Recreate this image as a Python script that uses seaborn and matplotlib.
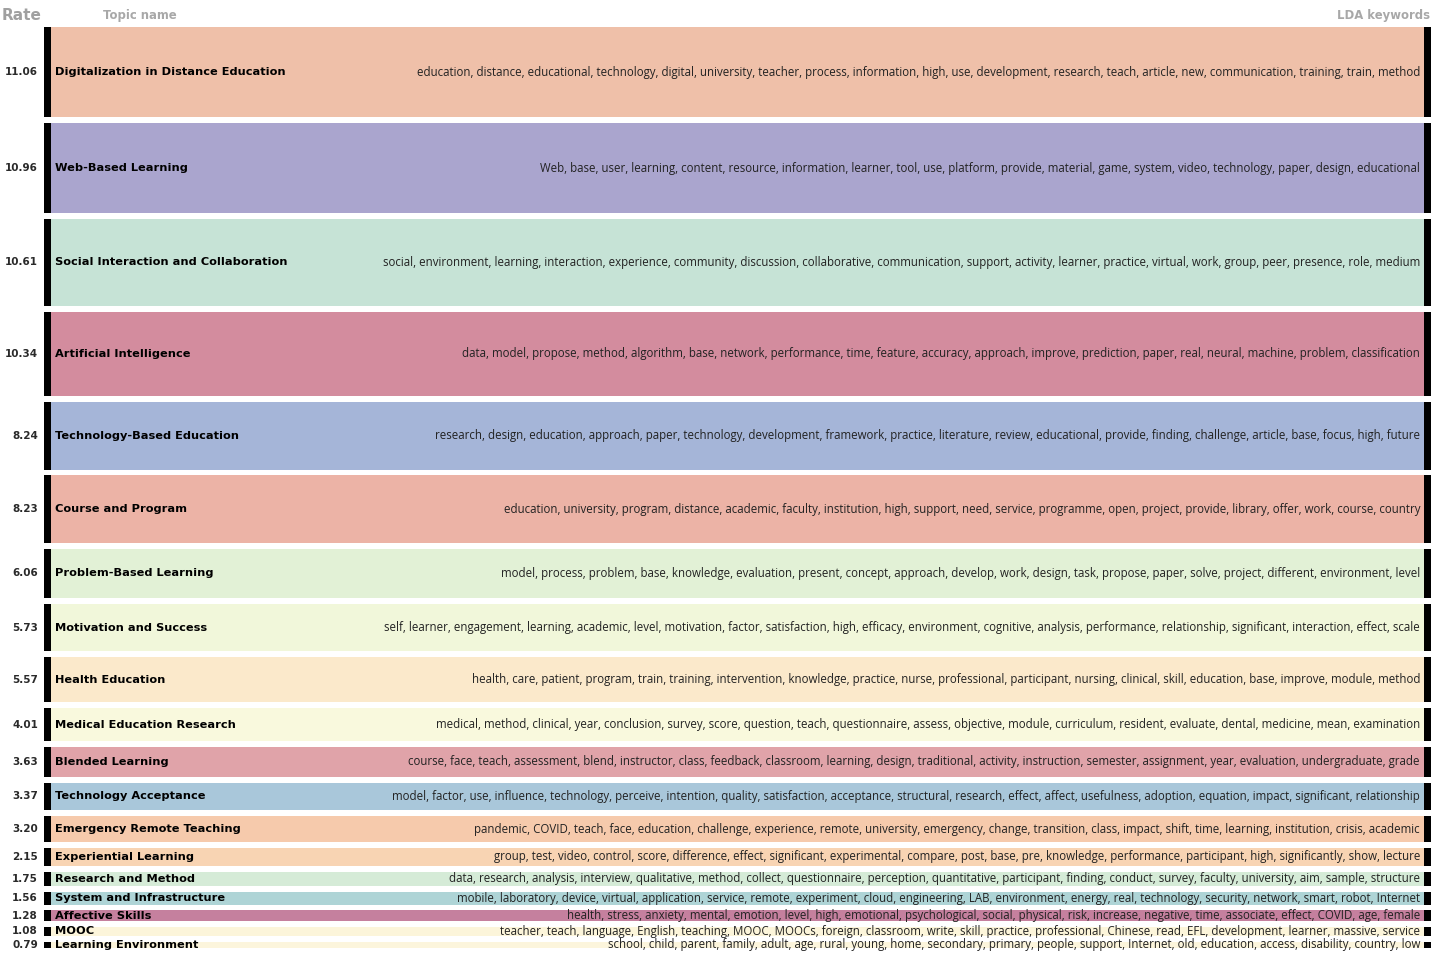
import numpy as np
import pandas as pd
import seaborn as sns
import matplotlib.pyplot as plt

topics = [
    "Digitalization in Distance Education", "Web-Based Learning",
    "Social Interaction and Collaboration", "Artificial Intelligence",
    "Technology-Based Education", "Course and Program", "Problem-Based Learning",
    "Motivation and Success", "Health Education", "Medical Education Research",
    "Blended Learning", "Technology Acceptance", "Emergency Remote Teaching",
    "Experiential Learning", "Research and Method", "System and Infrastructure",
    "Affective Skills", "MOOC", "Learning Environment",
]
rates = [11.06, 10.96, 10.61, 10.34, 8.24, 8.23, 6.06, 5.73, 5.57, 4.01,
         3.63, 3.37, 3.20, 2.15, 1.75, 1.56, 1.28, 1.08, 0.79]
keywords = [
    "education, distance, educational, technology, digital, university, teacher, process, information, high, use, development, research, teach, article, new, communication, training, train, method",
    "Web, base, user, learning, content, resource, information, learner, tool, use, platform, provide, material, game, system, video, technology, paper, design, educational",
    "social, environment, learning, interaction, experience, community, discussion, collaborative, communication, support, activity, learner, practice, virtual, work, group, peer, presence, role, medium",
    "data, model, propose, method, algorithm, base, network, performance, time, feature, accuracy, approach, improve, prediction, paper, real, neural, machine, problem, classification",
    "research, design, education, approach, paper, technology, development, framework, practice, literature, review, educational, provide, finding, challenge, article, base, focus, high, future",
    "education, university, program, distance, academic, faculty, institution, high, support, need, service, programme, open, project, provide, library, offer, work, course, country",
    "model, process, problem, base, knowledge, evaluation, present, concept, approach, develop, work, design, task, propose, paper, solve, project, different, environment, level",
    "self, learner, engagement, learning, academic, level, motivation, factor, satisfaction, high, efficacy, environment, cognitive, analysis, performance, relationship, significant, interaction, effect, scale",
    "health, care, patient, program, train, training, intervention, knowledge, practice, nurse, professional, participant, nursing, clinical, skill, education, base, improve, module, method",
    "medical, method, clinical, year, conclusion, survey, score, question, teach, questionnaire, assess, objective, module, curriculum, resident, evaluate, dental, medicine, mean, examination",
    "course, face, teach, assessment, blend, instructor, class, feedback, classroom, learning, design, traditional, activity, instruction, semester, assignment, year, evaluation, undergraduate, grade",
    "model, factor, use, influence, technology, perceive, intention, quality, satisfaction, acceptance, structural, research, effect, affect, usefulness, adoption, equation, impact, significant, relationship",
    "pandemic, COVID, teach, face, education, challenge, experience, remote, university, emergency, change, transition, class, impact, shift, time, learning, institution, crisis, academic",
    "group, test, video, control, score, difference, effect, significant, experimental, compare, post, base, pre, knowledge, performance, participant, high, significantly, show, lecture",
    "data, research, analysis, interview, qualitative, method, collect, questionnaire, perception, quantitative, participant, finding, conduct, survey, faculty, university, aim, sample, structure",
    "mobile, laboratory, device, virtual, application, service, remote, experiment, cloud, engineering, LAB, environment, energy, real, technology, security, network, smart, robot, Internet",
    "health, stress, anxiety, mental, emotion, level, high, emotional, psychological, social, physical, risk, increase, negative, time, associate, effect, COVID, age, female",
    "teacher, teach, language, English, teaching, MOOC, MOOCs, foreign, classroom, write, skill, practice, professional, Chinese, read, EFL, development, learner, massive, service",
    "school, child, parent, family, adult, age, rural, young, home, secondary, primary, people, support, Internet, old, education, access, disability, country, low",
]
colors = [
    "#efc0a9", "#aaa5ce", "#c6e3d6", "#d38c9e", "#a5b5d8", "#ecb3a6", "#e2f1d6",
    "#f1f7da", "#fbe9cb", "#f9f9dd", "#e0a3a9", "#a9c7da", "#f6caac", "#f8d4b3",
    "#d5ebd7", "#aed4d6", "#c5809e", "#fcf5da", "#fcf5dc",
]

sns.set_theme(style="white")
plt.rcParams['font.family'] = ['DejaVu Sans']

df = pd.DataFrame({"topic": topics, "rate": rates, "keywords": keywords})
gap = 0.72
df["top"] = np.concatenate([[0], np.cumsum(df["rate"].values + gap)[:-1]])
df["mid"] = df["top"] + df["rate"] / 2
total = df["top"].iloc[-1] + df["rate"].iloc[-1]

fig = plt.figure(figsize=(14.4, 9.6), dpi=100)
# axes spans the band area, x in pixel units
ax = fig.add_axes([44 / 1440, 12 / 960, 1387 / 1440, 921 / 960])
ax.barh(df["mid"], 1373, left=51, height=df["rate"], color=colors, linewidth=0)
ax.barh(df["mid"], 7, left=44, height=df["rate"], color="black", linewidth=0)
ax.barh(df["mid"], 7, left=1424, height=df["rate"], color="black", linewidth=0)
ax.set_xlim(44, 1431)
ax.set_ylim(total, 0)
ax.axis("off")

for _, row in df.iterrows():
    ax.text(38, row["mid"], f"{row['rate']:.2f}", ha="right", va="center",
            fontsize=7.5, fontweight="bold", color="#2a2a2a")
    ax.text(55, row["mid"], row["topic"], ha="left", va="center",
            fontsize=8.2, fontweight="bold", color="black")
    ax.text(1420, row["mid"], row["keywords"], ha="right", va="center",
            fontsize=8.3, color="#222222", family=["Open Sans", "DejaVu Sans"])

fig.text(2 / 1440, 1 - 15 / 960, "Rate", ha="left", va="center",
         fontsize=11, fontweight="bold", color="#a0a0a0")
fig.text(103 / 1440, 1 - 15 / 960, "Topic name", ha="left", va="center",
         fontsize=8.4, fontweight="bold", color="#a8a8a8")
fig.text(1430 / 1440, 1 - 16 / 960, "LDA keywords", ha="right", va="center",
         fontsize=8.4, fontweight="bold", color="#a8a8a8")

fig.savefig("out.png", dpi=100)
